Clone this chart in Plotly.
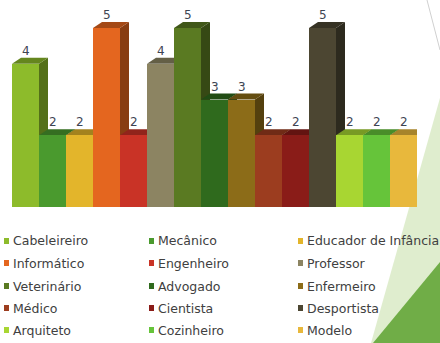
import plotly.graph_objects as go

# --- data -------------------------------------------------------------
professions = [
    "Cabeleireiro", "Mecânico", "Educador de Infância",
    "Informático", "Engenheiro", "Professor",
    "Veterinário", "Advogado", "Enfermeiro",
    "Médico", "Cientista", "Desportista",
    "Arquiteto", "Cozinheiro", "Modelo",
]
counts = [4, 2, 2, 5, 2, 4, 5, 3, 3, 2, 2, 5, 2, 2, 2]
bar_colors = [
    "#8dbb2b", "#4a9a2e", "#e3b52b",
    "#e4661f", "#c93326", "#8c8462",
    "#5a7a22", "#2f6a1d", "#8c6c18",
    "#9c3d1f", "#8a1c18", "#4c4632",
    "#a8d632", "#66c43a", "#e8b83c",
]

# --- geometry of the page ----------------------------------------------
W, H = 440, 343
PLOT_L, PLOT_R, PLOT_T, PLOT_B = 12, 417, 10, 207
Y_MAX = 5.5
unit_px = (PLOT_B - PLOT_T) / Y_MAX
bar_px = (PLOT_R - PLOT_L) / len(counts)
DX = 9 / bar_px          # depth offset of the 3D faces, in x units
DY = 6 / unit_px         # depth offset of the 3D faces, in y units


def shade(hex_color, f):
    r, g, b = (int(hex_color[k:k + 2], 16) for k in (1, 3, 5))
    return "#%02x%02x%02x" % (int(r * f), int(g * f), int(b * f))


def px(x):
    return x / W


def py(y):
    return 1 - y / H


positions = list(range(len(counts)))

fig = go.Figure()
fig.add_trace(go.Bar(
    x=positions,
    y=counts,
    width=1,
    marker=dict(color=bar_colors, line=dict(width=0)),
    hovertext=professions,
    hoverinfo="text+y",
    showlegend=False,
))

shapes = []

# slide decoration in the lower right corner
shapes.append(dict(
    type="path", xref="paper", yref="paper", layer="below",
    path=f"M {px(440)},{py(98)} L {px(440)},{py(343)} L {px(371)},{py(343)} Z",
    fillcolor="rgba(196,222,166,0.55)", line=dict(width=0),
))
shapes.append(dict(
    type="path", xref="paper", yref="paper", layer="below",
    path=f"M {px(440)},{py(262)} L {px(440)},{py(343)} L {px(373)},{py(343)} Z",
    fillcolor="#70ad47", line=dict(width=0),
))
shapes.append(dict(
    type="line", xref="paper", yref="paper", layer="below",
    x0=px(427), y0=py(0), x1=px(440), y1=py(50),
    line=dict(color="#d0d0d0", width=1),
))

# side and top faces of each bar, left to right
for i, (v, c) in enumerate(zip(counts, bar_colors)):
    x0, x1 = i - 0.5, i + 0.5
    shapes.append(dict(
        type="path", xref="x", yref="y", layer="below",
        path=(f"M {x1},0 L {x1 + DX},{DY} L {x1 + DX},{v + DY} "
              f"L {x1},{v} Z"),
        fillcolor=shade(c, 0.6), line=dict(width=0),
    ))
    shapes.append(dict(
        type="path", xref="x", yref="y", layer="below",
        path=(f"M {x0},{v} L {x1},{v} L {x1 + DX},{v + DY} "
              f"L {x0 + DX},{v + DY} Z"),
        fillcolor=shade(c, 0.72), line=dict(width=0),
    ))

annotations = []

# value labels above the bars
for i, v in enumerate(counts):
    annotations.append(dict(
        x=i, y=v, xref="x", yref="y", text=str(v), showarrow=False,
        xanchor="center", yanchor="bottom", yshift=4,
        font=dict(family="DejaVu Sans", size=12, color="#3d4452"),
    ))

# legend: three columns, filled row by row
col_marker_x = [4, 149, 298]
col_text_x = [11, 156, 305]
row_y = [241, 263, 286, 308, 330]
for k, (name, c) in enumerate(zip(professions, bar_colors)):
    row, col = divmod(k, 3)
    yc = row_y[row]
    mx = col_marker_x[col]
    shapes.append(dict(
        type="rect", xref="paper", yref="paper",
        x0=px(mx), x1=px(mx + 5), y0=py(yc - 3), y1=py(yc + 3),
        fillcolor=c, line=dict(width=0),
    ))
    annotations.append(dict(
        x=px(col_text_x[col]), y=py(yc), xref="paper", yref="paper",
        text=name, showarrow=False, xanchor="left", yanchor="middle",
        font=dict(family="DejaVu Sans", size=12.5, color="#404040"),
    ))

fig.update_layout(
    width=W, height=H,
    margin=dict(l=0, r=0, t=0, b=0),
    paper_bgcolor="white",
    plot_bgcolor="rgba(0,0,0,0)",
    bargap=0,
    showlegend=False,
    shapes=shapes,
    annotations=annotations,
    xaxis=dict(
        domain=[PLOT_L / W, PLOT_R / W],
        range=[-0.5, len(counts) - 0.5],
        visible=False, fixedrange=True,
    ),
    yaxis=dict(
        domain=[1 - PLOT_B / H, 1 - PLOT_T / H],
        range=[0, Y_MAX],
        visible=False, fixedrange=True,
    ),
)

fig.write_html("out.html")
